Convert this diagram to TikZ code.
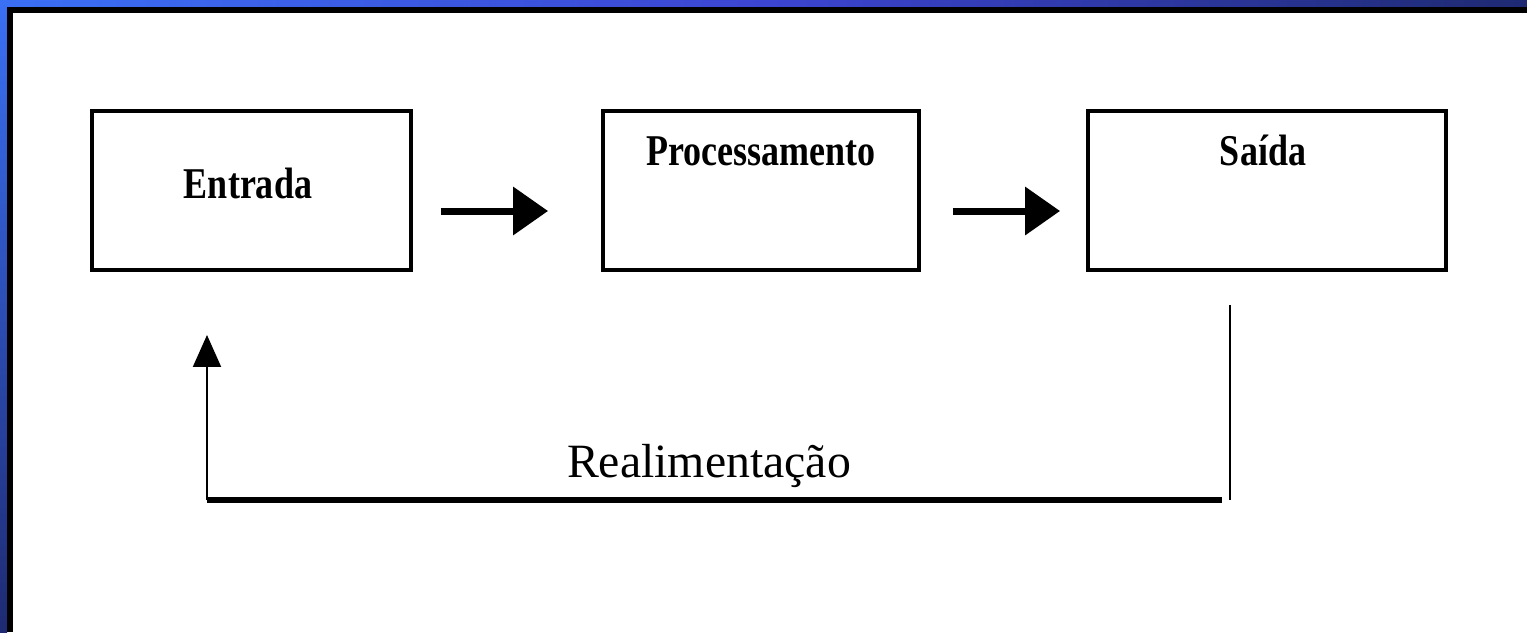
\documentclass[tikz,border=0pt]{standalone}
\usepackage{fontspec}
\setmainfont{Liberation Serif}
\usetikzlibrary{arrows.meta}
\definecolor{topblueA}{HTML}{3A70F4}
\definecolor{topblueB}{HTML}{3C45D2}
\definecolor{topblueC}{HTML}{1E2A72}
\tikzset{
  boxst/.style={draw=black, line width=0.08cm, fill=white, inner sep=0pt, minimum height=3.18cm},
  boxlabel/.style={font=\fontsize{25}{28}\selectfont\bfseries, inner sep=0pt, anchor=base},
  fblabel/.style={font=\fontsize{27.2}{30}\selectfont, inner sep=0pt, anchor=base},
  flow/.style={line width=0.14cm, -{Triangle[length=0.7cm, width=0.94cm]}},
  fbthin/.style={line width=0.05cm},
  fbthick/.style={line width=0.13cm},
  fbarrow/.style={line width=0.04cm, -{Triangle[length=0.64cm, width=0.56cm]}}
}
\begin{document}
\begin{tikzpicture}[x=0.02cm, y=-0.02cm]
  \useasboundingbox (0,0) rectangle (1527,632);
  \fill[white] (0,0) rectangle (1527,632);
  % frame
  \shade[left color=topblueA, right color=topblueC, middle color=topblueB] (0,0) rectangle (1527,7);
  \shade[top color=topblueA, bottom color=topblueC] (0,0) rectangle (7,632);
  \fill[black] (7,7) rectangle (1527,13);
  \fill[black] (7,7) rectangle (13,632);
  % boxes
  \node[boxst, minimum width=6.38cm] (a) at (251.5,190.5) {};
  \node[boxst, minimum width=6.32cm] (b) at (761,190.5) {};
  \node[boxst, minimum width=7.16cm] (c) at (1267,190.5) {};
  \node[boxlabel] (ta) at (248,198) {\scalebox{0.82}[1]{Entrada}};
  \node[boxlabel] (tb) at (761,165) {\scalebox{0.82}[1]{Processamento}};
  \node[boxlabel] (tc) at (1263,165) {\scalebox{0.82}[1]{Saída}};
  % forward arrows
  \draw[flow, shorten <=0.56cm, shorten >=1.06cm] (a.east |- 0,211) -- (b.west |- 0,211);
  \draw[flow, shorten <=0.64cm, shorten >=0.52cm] (b.east |- 0,211) -- (c.west |- 0,211);
  % feedback
  \coordinate (fb1) at (1230,500);
  \coordinate (fb2) at (207,500);
  \draw[fbthin, shorten <=0.66cm] (c.south -| fb1) -- (fb1);
  \draw[fbthick] ([xshift=-0.16cm]fb1) -- (fb2);
  \draw[fbarrow, shorten >=1.26cm] (fb2) -- (a.south -| fb2);
  \node[fblabel] (tr) at (709,477) {Realimentação};
\end{tikzpicture}
\end{document}
